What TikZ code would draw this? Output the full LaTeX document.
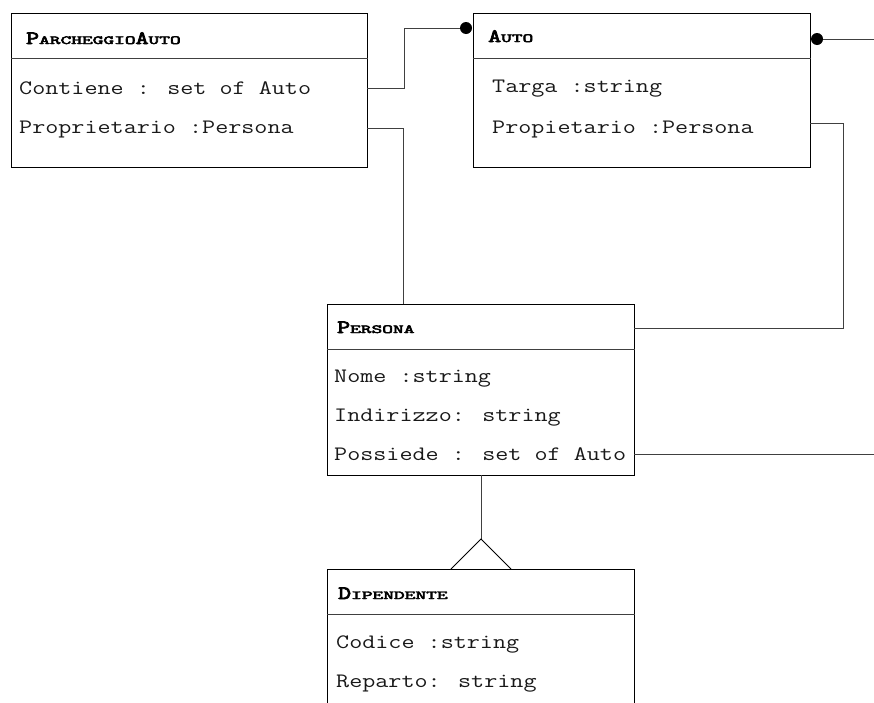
\documentclass[tikz,border=0pt]{standalone}
\usepackage{fontspec}
\usepackage{graphicx}
\usetikzlibrary{calc}
\newfontfamily\ttlfont{lmmono10-regular.otf}[FakeBold=3.5]
\newcommand\tbig[1]{\scalebox{1.31}[1]{\fontsize{18.8}{19}\selectfont #1}}
\newcommand\tsml[1]{\scalebox{1.66}[1]{\fontsize{12.3}{13}\selectfont #1}}
\newcommand\rowtext[1]{\scalebox{1.238}[1]{#1}}
\begin{document}
\begin{tikzpicture}[x=1pt,y=-1pt,
  classbox/.style={draw=black, line width=1pt, rectangle, inner sep=0pt, anchor=north west},
  sepline/.style={draw=black!75, line width=1pt},
  conn/.style={draw=black!75, line width=1pt},
  ttl/.style={anchor=base west, inner sep=0pt, font=\ttlfont},
  rowtxt/.style={anchor=base west, inner sep=0pt, text=black!90, font=\ttfamily\fontsize{20.5}{24}\selectfont},
  dotn/.style={circle, fill=black, inner sep=0pt, minimum size=#1},
  dotn/.default=12pt]
\useasboundingbox (0,0) rectangle (874,702);
\clip (0,0) rectangle (874,702);

% boxes
\node[classbox, minimum width=356pt, minimum height=154pt] (park) at (11,13) {};
\node[classbox, minimum width=337pt, minimum height=154pt] (auto) at (473,13) {};
\node[classbox, minimum width=307pt, minimum height=171pt] (pers) at (327,304) {};
\node[classbox, minimum width=307pt, minimum height=160pt] (dip) at (327,569) {};

% header separators
\draw[sepline] ($(park.north west)+(0,45)$) -- ($(park.north east)+(0,45)$);
\draw[sepline] ($(auto.north west)+(0,45)$) -- ($(auto.north east)+(0,45)$);
\draw[sepline] ($(pers.north west)+(0,45)$) -- ($(pers.north east)+(0,45)$);
\draw[sepline] ($(dip.north west)+(0,45)$) -- ($(dip.north east)+(0,45)$);

% titles
\node[ttl] (parkT) at (26,44) {\tbig{P}\tsml{ARCHEGGIO}\tbig{A}\tsml{UTO}};
\node[ttl] (autoT) at (488,42) {\tbig{A}\tsml{UTO}};
\node[ttl] (persT) at (337,333) {\tbig{P}\tsml{ERSONA}};
\node[ttl] (dipT) at (338,599) {\tbig{D}\tsml{IPENDENTE}};

% attributes
\node[rowtxt] (park1) at (19,94) {\rowtext{Contiene : set of Auto}};
\node[rowtxt] (park2) at (19,133) {\rowtext{Proprietario :Persona}};
\node[rowtxt] (auto1) at (492,92) {\rowtext{Targa :string}};
\node[rowtxt] (auto2) at (492,133) {\rowtext{Propietario :Persona}};
\node[rowtxt] (pers1) at (334,382) {\rowtext{Nome :string}};
\node[rowtxt] (pers2) at (334,421) {\rowtext{Indirizzo: string}};
\node[rowtxt] (pers3) at (334,460) {\rowtext{Possiede : set of Auto}};
\node[rowtxt] (dip1) at (336,648) {\rowtext{Codice :string}};
\node[rowtxt] (dip2) at (336,687) {\rowtext{Reparto: string}};

% dots
\node[dotn=12pt] (dotA) at (466,28) {};
\node[dotn=12pt] (dotB) at (817,39) {};

% ports
\coordinate (pcE) at (367,88);
\coordinate (ppE) at (367,128);
\coordinate (persTop) at (403,304);
\coordinate (apE) at (810,123);
\coordinate (persE) at (634,328);
\coordinate (freeB) at (874,39);
\coordinate (posE) at (634,454);
\coordinate (freeP) at (874,454);
\coordinate (persBot) at (481,475);
\coordinate (apex) at (481,539);
\coordinate (triL) at (451,569);
\coordinate (triR) at (511,569);

% connectors
\draw[conn] (pcE) -- ++(37,0) |- (dotA);
\draw[conn] (ppE) -| (persTop);
\draw[conn] (apE) -- ++(33,0) |- (persE);
\draw[conn] (dotB) -- (freeB);
\draw[conn] (posE) -- (freeP);
\draw[conn] (persBot) -- (apex);
\draw[draw=black, line width=1pt, line join=miter] (triL) -- (apex) -- (triR);
\end{tikzpicture}
\end{document}
